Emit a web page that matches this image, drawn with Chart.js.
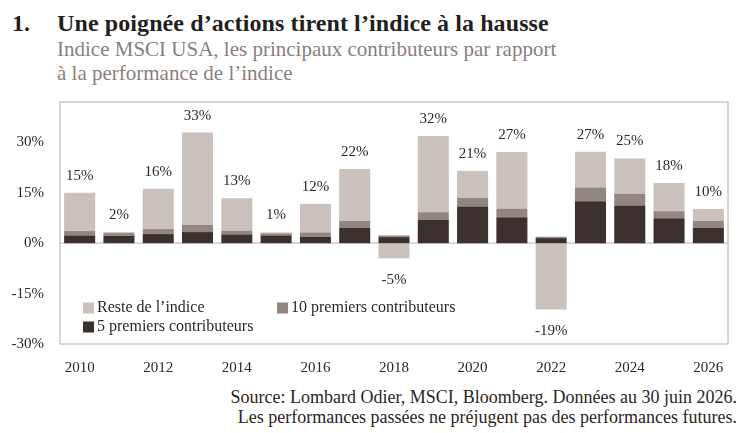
<!DOCTYPE html>
<html>
<head>
<meta charset="utf-8">
<script src="https://cdn.jsdelivr.net/npm/chart.js@4"></script>
<style>
  body { margin: 0; background: #fff; width: 747px; height: 433px; overflow: hidden; position: relative; font-family: "Liberation Serif", serif; }
  #num { position: absolute; left: 12px; top: 9px; font-size: 24px; font-weight: bold; color: #231f1e; line-height: 28px; }
  #titre { position: absolute; left: 57px; top: 9px; font-size: 24px; font-weight: bold; color: #231f1e; line-height: 28px; letter-spacing: 0.1px; }
  #sous { position: absolute; left: 57px; top: 37px; font-size: 21px; color: #8a807b; line-height: 24px; }
  #wrap { position: absolute; left: 0; top: 90px; width: 747px; height: 290px; }
  #source { position: absolute; right: 10px; top: 387px; font-size: 18px; color: #2b2523; text-align: right; line-height: 20px; }
</style>
</head>
<body>
<div id="num">1.</div>
<div id="titre">Une poignée d’actions tirent l’indice à la hausse</div>
<div id="sous">Indice MSCI USA, les principaux contributeurs par rapport<br>à la performance de l’indice</div>
<div id="wrap"><canvas id="graphique"></canvas></div>
<div id="source">Source: Lombard Odier, MSCI, Bloomberg. Données au 30 juin 2026.<br>Les performances passées ne préjugent pas des performances futures.</div>
<script>
const annees = ["2010","2011","2012","2013","2014","2015","2016","2017","2018","2019","2020","2021","2022","2023","2024","2025","2026"];
const top5   = [2.3, 2.2, 2.7, 3.3, 2.6, 2.3, 1.9, 4.6, 1.8, 7.0, 10.9, 7.7, 1.5, 12.5, 11.2, 7.4, 4.6];
const top10  = [1.3, 0.8, 1.5, 2.1, 1.1, 0.6, 1.3, 2.0, 0.5, 2.2, 2.6, 2.6, 0.4, 4.1, 3.5, 2.1, 2.0];
const reste  = [11.4, 0.3, 12.0, 27.5, 9.7, 0.3, 8.5, 15.5, -4.5, 22.7, 8.0, 16.8, -19.7, 10.6, 10.5, 8.4, 3.6];
const totaux = [15, 2, 16, 33, 13, 1, 12, 22, -5, 32, 21, 27, -19, 27, 25, 18, 10];
const ticksY = [-30, -15, 0, 15, 30];

const couleurReste = "#cac1bc";
const couleurTop10 = "#928680";
const couleurTop5  = "#3b302d";
const couleurTexte = "#2f2725";
const couleurCadre = "#c9c0bb";
const police = "'Liberation Serif', serif";

/* cadre + ligne du zero */
const cadre = {
    id: "cadre",
    beforeDatasetsDraw(chart) {
        const { ctx, chartArea: a, scales } = chart;
        ctx.save();
        ctx.strokeStyle = couleurCadre;
        ctx.lineWidth = 1.3;
        ctx.strokeRect(a.left, a.top, a.right - a.left, a.bottom - a.top);
        const y0 = scales.y.getPixelForValue(0);
        ctx.beginPath();
        ctx.moveTo(a.left, y0);
        ctx.lineTo(a.right, y0);
        ctx.stroke();
        ctx.restore();
    }
};

/* etiquettes des totaux */
const etiquettes = {
    id: "etiquettes",
    afterDatasetsDraw(chart) {
        const { ctx, scales } = chart;
        ctx.save();
        ctx.font = "15px " + police;
        ctx.fillStyle = couleurTexte;
        ctx.textAlign = "center";
        ctx.textBaseline = "middle";
        totaux.forEach((t, i) => {
            const x = scales.x.getPixelForValue(i);
            let pos = 0, neg = 0;
            [top5[i], top10[i], reste[i]].forEach(v => { if (v > 0) pos += v; else neg += v; });
            if (t >= 0) {
                ctx.fillText(t + "%", x, scales.y.getPixelForValue(pos) - 17);
            } else {
                ctx.fillText(t + "%", x, scales.y.getPixelForValue(neg) + 22);
            }
        });
        ctx.restore();
    }
};

/* legende dans le graphique */
const legende = {
    id: "legende",
    afterDatasetsDraw(chart) {
        const { ctx, chartArea: a } = chart;
        const items = [
            { label: "Reste de l’indice", couleur: couleurReste, x: 23, y: -36 },
            { label: "10 premiers contributeurs", couleur: couleurTop10, x: 217, y: -36 },
            { label: "5 premiers contributeurs", couleur: couleurTop5, x: 23, y: -17 }
        ];
        ctx.save();
        ctx.font = "16px " + police;
        ctx.textBaseline = "middle";
        items.forEach(it => {
            ctx.fillStyle = it.couleur;
            ctx.fillRect(a.left + it.x, a.bottom + it.y - 5.5, 11, 11);
            ctx.fillStyle = couleurTexte;
            ctx.fillText(it.label, a.left + it.x + 14, a.bottom + it.y);
        });
        ctx.restore();
    }
};

new Chart(document.getElementById("graphique"), {
    type: "bar",
    data: {
        labels: annees,
        datasets: [
            { label: "5 premiers contributeurs", data: top5, backgroundColor: couleurTop5 },
            { label: "10 premiers contributeurs", data: top10, backgroundColor: couleurTop10 },
            { label: "Reste de l’indice", data: reste, backgroundColor: couleurReste }
        ]
    },
    options: {
        responsive: true,
        maintainAspectRatio: false,
        animation: false,
        datasets: { bar: { barPercentage: 0.79, categoryPercentage: 1 } },
        layout: { padding: { left: 0, right: 19, top: 12, bottom: 0 } },
        plugins: {
            legend: { display: false },
            tooltip: { enabled: false }
        },
        scales: {
            x: {
                stacked: true,
                grid: { display: false, drawTicks: false },
                border: { display: false },
                afterFit: s => { s.height = 36; s.paddingLeft = 0; s.paddingRight = 0; },
                ticks: {
                    autoSkip: false,
                    maxRotation: 0,
                    padding: 15,
                    color: couleurTexte,
                    font: { family: police, size: 15 },
                    callback: (v, i) => (i % 2 === 0 ? annees[i] : "")
                }
            },
            y: {
                stacked: true,
                min: -30,
                max: 42,
                grid: { display: false, drawTicks: false },
                border: { display: false },
                afterFit: s => { s.width = 60; s.paddingTop = 0; s.paddingBottom = 0; },
                afterBuildTicks: s => { s.ticks = ticksY.map(v => ({ value: v })); },
                ticks: {
                    padding: 16,
                    color: couleurTexte,
                    font: { family: police, size: 15 },
                    callback: v => v + "%"
                }
            }
        }
    },
    plugins: [cadre, etiquettes, legende]
});
</script>
</body>
</html>
